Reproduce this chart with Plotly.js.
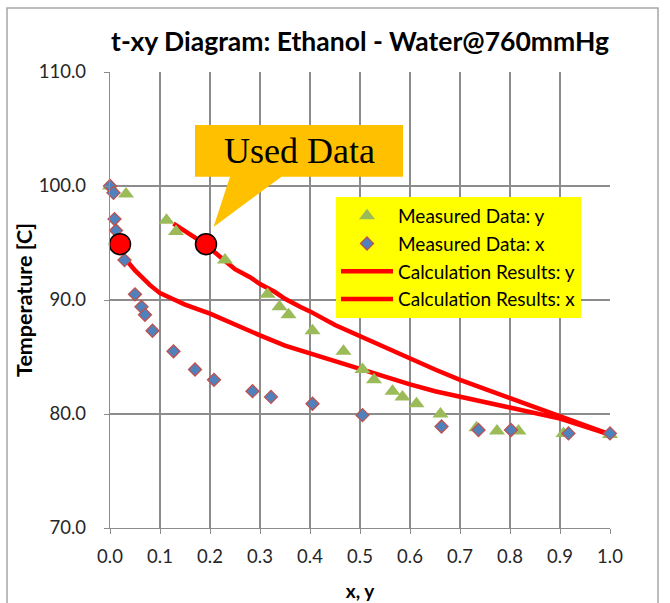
<!DOCTYPE html>
<html>
<head>
<meta charset="utf-8">
<script src="https://cdn.plot.ly/plotly-3.0.1.min.js"></script>
<style>
  html, body { margin: 0; padding: 0; background: #ffffff; }
  #chart { width: 670px; height: 603px; }
</style>
</head>
<body>
<div id="chart"></div>
<script>
// Measured vapour composition y (triangles)
const measYx = [0.0, 0.032, 0.113, 0.132, 0.23, 0.315, 0.339, 0.357, 0.405, 0.467, 0.505, 0.528, 0.565, 0.585, 0.613, 0.661, 0.733, 0.774, 0.817, 0.907, 1.0];
const measYT = [100.0, 99.3, 97.0, 96.0, 93.5, 90.5, 89.4, 88.7, 87.3, 85.5, 83.9, 83.0, 82.0, 81.5, 80.9, 80.0, 78.8, 78.5, 78.5, 78.3, 78.2];

// Measured liquid composition x (diamonds)
const measXx = [0.0, 0.007, 0.009, 0.012, 0.029, 0.05, 0.063, 0.07, 0.085, 0.127, 0.17, 0.208, 0.285, 0.322, 0.405, 0.505, 0.663, 0.737, 0.802, 0.917, 1.0];
const measXT = [100.0, 99.4, 97.1, 96.1, 93.5, 90.5, 89.4, 88.7, 87.3, 85.5, 83.9, 83.0, 82.0, 81.5, 80.9, 79.9, 78.9, 78.6, 78.6, 78.3, 78.3];

// Calculation results: y (upper curve)
const calcYx = [0.127, 0.15, 0.19, 0.22, 0.25, 0.28, 0.30, 0.33, 0.35, 0.38, 0.40, 0.45, 0.50, 0.55, 0.60, 0.65, 0.70, 0.75, 0.80, 0.85, 0.90, 0.95, 1.0];
const calcYT = [96.7, 96.0, 94.9, 93.8, 92.7, 92.0, 91.4, 90.7, 90.1, 89.4, 89.0, 87.8, 86.8, 85.8, 84.8, 83.9, 83.0, 82.2, 81.4, 80.6, 79.8, 79.0, 78.2];

// Calculation results: x (lower curve)
const calcXx = [0.025, 0.05, 0.08, 0.10, 0.13, 0.15, 0.20, 0.25, 0.30, 0.35, 0.40, 0.45, 0.50, 0.55, 0.60, 0.65, 0.70, 0.75, 0.80, 0.85, 0.90, 0.95, 1.0];
const calcXT = [93.9, 92.6, 91.3, 90.6, 90.0, 89.6, 88.8, 87.8, 86.9, 86.0, 85.3, 84.7, 84.0, 83.3, 82.6, 82.0, 81.5, 81.0, 80.5, 80.0, 79.6, 78.9, 78.2];

// Used data points (big red circles)
const usedX = [0.02, 0.192];
const usedT = [94.9, 94.9];

const xTickVals = [0, 0.1, 0.2, 0.3, 0.4, 0.5, 0.6, 0.7, 0.8, 0.9, 1.0];
const yTickVals = [70, 80, 90, 100, 110];

const FONT = 'Lato, "Open Sans", sans-serif';
const GRID = '#8c8c8c';

const traces = [
  {
    x: calcYx, y: calcYT, name: 'Calculation Results: y', mode: 'lines',
    line: {color: '#ff0000', width: 4.5}, legendrank: 3
  },
  {
    x: calcXx, y: calcXT, name: 'Calculation Results: x', mode: 'lines',
    line: {color: '#ff0000', width: 4.5}, legendrank: 4
  },
  {
    x: measYx, y: measYT, name: 'Measured Data: y', mode: 'markers', cliponaxis: false,
    marker: {symbol: 'triangle-up', size: 14, color: '#9bbb59', line: {width: 0}}, legendrank: 1
  },
  {
    x: measXx, y: measXT, name: 'Measured Data: x', mode: 'markers', cliponaxis: false,
    marker: {symbol: 'diamond', size: 10, color: '#4f81bd', line: {color: '#c0504d', width: 1.3}}, legendrank: 2
  },
  {
    x: usedX, y: usedT, name: 'Used Data', mode: 'markers', cliponaxis: false, showlegend: false,
    marker: {symbol: 'circle', size: 21, color: '#ff0000', line: {color: '#000000', width: 1.5}}
  }
];

// callout tail tip near the second used-data point
const tipX = usedX[1] + 0.015, tipT = usedT[1] + 1.5;
const calloutPath = 'M 0.17 105.35 L 0.586 105.35 L 0.586 100.82 L 0.343 100.82 L ' +
  tipX + ' ' + tipT + ' L 0.24 100.82 L 0.17 100.82 Z';

const layout = {
  width: 670, height: 603,
  margin: {l: 110, r: 60, t: 72, b: 75},
  paper_bgcolor: '#ffffff', plot_bgcolor: '#ffffff',
  font: {family: FONT, size: 18, color: '#262626'},
  showlegend: true,
  title: {
    text: 't-xy Diagram: Ethanol - Water@760mmHg',
    font: {family: FONT, size: 26.5, color: '#000000', weight: 'bold'},
    xref: 'paper', x: 0.5, xanchor: 'center',
    yref: 'container', y: 1 - 42 / 603, yanchor: 'middle'
  },
  xaxis: {
    range: [0, 1], tickvals: xTickVals, tickformat: '.1f',
    showgrid: true, gridcolor: GRID, gridwidth: 1.3,
    showline: true, linecolor: GRID, linewidth: 1.3, mirror: false,
    zeroline: false, ticks: 'outside', ticklen: 5, tickcolor: GRID,
    ticklabelstandoff: 6,
    tickfont: {family: FONT, size: 18.5, color: '#262626'},
    title: {text: 'x, y', font: {family: FONT, size: 19, color: '#000000', weight: 'bold'}, standoff: 19}
  },
  yaxis: {
    range: [70, 110], tickvals: yTickVals, tickformat: '.1f',
    showgrid: true, gridcolor: GRID, gridwidth: 1.3,
    showline: true, linecolor: GRID, linewidth: 1.3,
    zeroline: false, ticks: 'outside', ticklen: 5, tickcolor: GRID,
    ticklabelstandoff: 14,
    tickfont: {family: FONT, size: 18.5, color: '#262626'},
    title: {text: 'Temperature [C]', font: {family: FONT, size: 21.5, color: '#000000', weight: 'bold'}, standoff: 0}
  },
  legend: {
    x: 0.452, y: 0.726, xanchor: 'left', yanchor: 'top',
    bgcolor: '#ffff00', borderwidth: 0,
    font: {family: FONT, size: 19, color: '#000000'},
    tracegroupgap: 0, itemwidth: 52
  },
  shapes: [
    {
      type: 'path', xref: 'x', yref: 'y', path: calloutPath,
      fillcolor: '#ffc000', line: {width: 0}, layer: 'above'
    },
    {
      type: 'rect', xref: 'paper', yref: 'paper',
      x0: (7 - 110) / 500, x1: (658 - 110) / 500,
      y0: -0.3, y1: 1 + (72 - 8) / 456,
      line: {color: '#a6a6a6', width: 1.5}, fillcolor: 'rgba(0,0,0,0)', layer: 'below'
    }
  ],
  annotations: [
    {
      xref: 'x', yref: 'y', x: 0.378, y: 103.1, text: 'Used Data', showarrow: false,
      font: {family: '"Liberation Serif", "Times New Roman", serif', size: 36, color: '#000000'},
      xanchor: 'center', yanchor: 'middle'
    }
  ]
};

Plotly.newPlot('chart', traces, layout, {displayModeBar: false, staticPlot: true});
</script>
</body>
</html>
